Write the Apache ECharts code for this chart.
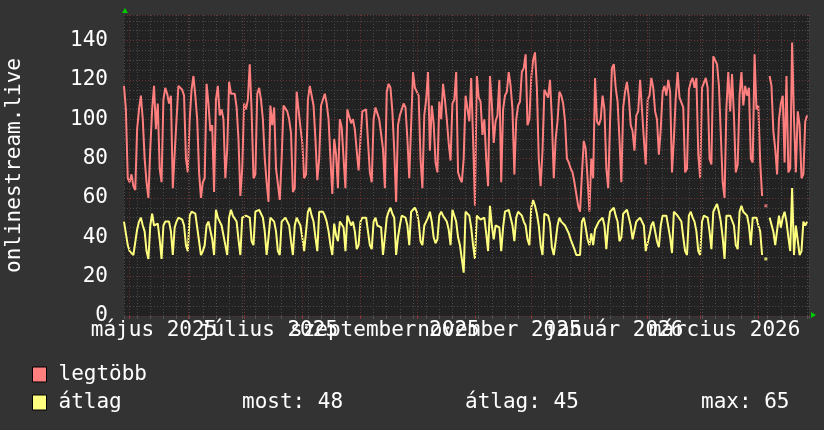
<!DOCTYPE html>
<html>
<head>
<meta charset="utf-8">
<title>onlinestream.live</title>
<script src="https://cdn.jsdelivr.net/npm/echarts@6/dist/echarts.min.js"></script>
<style>
  html, body { margin: 0; padding: 0; background: #333333; }
  #chart { width: 824px; height: 430px; }
</style>
</head>
<body>
<div id="chart"></div>
<script>
// napi értékek, a 0. nap 2025-04-28 (hétfő), hetente egy sor
const maxUsers = [
  117, 105, 70, 68, 72, 66, 64,
  95, 105, 112, 100, 80, 68, 60,
  85, 105, 117, 95, 108, 75, 68,
  110, 116, 113, 108, 112, 65, 65,
  100, 117, 116, 115, 112, 80, 73,
  100, 115, 122, 112, 100, 73, 60,
  68, 70, 118, 108, 94, 97, 63,
  110, 117, 102, 105, 100, 70, 85,
  119, 113, 112, 113, 106, 90, 61,
  75, 108, 105, 110, 128, 104, 70,
  72, 113, 116, 110, 100, 80, 68,
  58, 107, 97, 106, 75, 67, 59,
  80, 107, 107, 104, 100, 93, 63,
  65, 114, 113, 96, 88, 70, 72,
  110, 117, 116, 107, 90, 69, 80,
  107, 108, 113, 108, 100, 80, 62,
  90, 82, 65, 100, 96, 80, 65,
  105, 105, 98, 100, 95, 84, 74,
  90, 104, 105, 105, 105, 73, 68,
  100, 106, 103, 100, 100, 85, 65,
  114, 118, 116, 104, 84, 58, 97,
  102, 105, 108, 106, 90, 70, 70,
  124, 116, 116, 112, 80, 65, 102,
  110, 124, 84, 107, 98, 78, 73,
  109, 100, 118, 110, 100, 88, 79,
  108, 110, 124, 73, 70, 68, 80,
  112, 111, 99, 121, 90, 56, 122,
  111, 109, 92, 100, 80, 66, 122,
  108, 88, 99, 102, 120, 68, 105,
  112, 114, 124, 117, 105, 72, 100,
  107, 109, 124, 126, 133, 97, 100,
  121, 130, 134, 116, 80, 66, 84,
  115, 114, 111, 120, 100, 70, 90,
  99, 114, 112, 108, 99, 80, 78,
  75, 73, 68, 62, 56, 53, 72,
  89, 85, 70, 53, 80, 70, 121,
  99, 97, 100, 112, 105, 75, 65,
  99, 126, 128, 116, 109, 90, 68,
  106, 114, 119, 111, 97, 94, 84,
  102, 104, 120, 119, 90, 77, 110,
  112, 121, 116, 104, 100, 82, 95,
  114, 117, 112, 120, 114, 73, 90,
  111, 124, 111, 112, 106, 73, 75,
  115, 119, 121, 116, 121, 82, 70,
  116, 117, 121, 116, 80, 77, 132,
  131, 128, 117, 116, 68, 60, 106,
  124, 104, 123, 102, 73, 77, 112,
  124, 107, 117, 112, 116, 80, 78,
  133, 105, 107, 78, 61, null, 56,
  null, 122, 117, 94, 85, 72, 100,
  108, 112, 78, 122, 73, 75, 139,
  100, 73, 104, 97, 70, 72, 99,
  102
]

const avgUsers = [
  48, 47, 36, 33, 32, 31, 31,
  44, 48, 50, 46, 43, 33, 29,
  46, 52, 46, 47, 47, 39, 29,
  46, 48, 48, 48, 43, 31, 45,
  48, 50, 49, 49, 46, 36, 33,
  51, 53, 54, 52, 51, 38, 31,
  33, 36, 46, 48, 49, 39, 31,
  54, 50, 48, 46, 45, 36, 31,
  50, 54, 51, 50, 48, 39, 31,
  50, 51, 51, 51, 50, 38, 36,
  53, 54, 54, 52, 50, 43, 31,
  40, 50, 49, 48, 43, 33, 31,
  48, 49, 50, 50, 46, 38, 31,
  46, 50, 48, 46, 40, 33, 34,
  53, 55, 51, 48, 40, 33, 53,
  54, 53, 51, 48, 43, 36, 31,
  47, 41, 38, 48, 49, 45, 33,
  51, 50, 46, 48, 43, 34, 36,
  48, 50, 50, 50, 49, 36, 34,
  48, 50, 46, 46, 45, 31, 40,
  50, 53, 55, 52, 50, 31, 40,
  46, 51, 50, 50, 46, 36, 53,
  54, 55, 53, 48, 38, 36, 46,
  48, 50, 53, 48, 40, 37, 39,
  51, 53, 51, 50, 48, 44, 36,
  54, 55, 48, 40, 36, 29, 22,
  53, 52, 51, 45, 36, 29, 51,
  52, 49, 48, 50, 42, 33, 56,
  46, 39, 46, 46, 45, 33, 45,
  53, 54, 54, 53, 46, 38, 50,
  53, 54, 51, 48, 46, 39, 36,
  55, 59, 56, 52, 46, 36, 31,
  52, 53, 51, 47, 35, 31, 38,
  46, 50, 48, 47, 46, 45, 42,
  39, 38, 34, 31, 30, 31, 48,
  50, 45, 39, 36, 42, 36, 44,
  46, 48, 49, 50, 46, 34, 46,
  53, 54, 55, 51, 48, 38, 40,
  52, 53, 54, 53, 46, 39, 40,
  48, 47, 50, 51, 46, 33, 33,
  41, 46, 48, 43, 38, 35, 46,
  51, 52, 51, 50, 40, 32, 53,
  52, 51, 50, 48, 40, 33, 31,
  51, 53, 50, 48, 43, 33, 31,
  48, 51, 52, 50, 43, 34, 53,
  55, 57, 53, 48, 40, 29, 51,
  50, 51, 50, 46, 36, 34, 53,
  56, 53, 54, 51, 46, 36, 50,
  51, 50, 46, 43, 31, null, 29,
  null, 50, 51, 43, 36, 36, 51,
  45, 50, 53, 48, 40, 33, 65,
  31, 46, 45, 31, 33, 48, 46,
  48
]

// hónapok első napja (napban a 0. naptól)
const monthStarts = [3, 34, 64, 95, 126, 156, 187, 217, 248, 279, 307, 338]
// a feliratok két sávban, hogy az egymásra lógó címkék is megmaradjanak
const labelDaysA = [16, 139, 261]
const labelNamesA = ['május 2025', 'szeptember 2025', 'január 2026']
const labelDaysB = [77, 200, 320]
const labelNamesB = ['július 2025', 'november 2025', 'március 2026']
const statLabels = ['most: 48', 'átlag: 45', 'max: 65']

const FONT = 'DejaVu Sans Mono'
const RED = '#ff7f7f'
const YELLOW = '#ffff7f'

const toPoints = (arr) => arr.map((v, i) => [i, v])

// magányos pontok (két hiány között), ezek külön jelölőt kapnak
const lonePoints = (arr) =>
  arr
    .map((v, i) => [i, v])
    .filter(([i, v]) => v !== null && arr[i - 1] === null && arr[i + 1] === null)

const labelAxis = (days, names) => ({
  type: 'value',
  position: 'bottom',
  min: 0,
  max: 365,
  axisLine: { show: false },
  axisTick: { show: false },
  axisLabel: {
    customValues: days,
    showMinLabel: true,
    showMaxLabel: true,
    hideOverlap: false,
    margin: 4,
    color: '#ffffff',
    fontFamily: FONT,
    fontSize: 21,
    formatter: (v) => names[days.indexOf(Math.round(v))] || ''
  },
  splitLine: { show: false }
})

const chart = echarts.init(document.getElementById('chart'))

const option = {
  backgroundColor: '#333333',
  animation: false,
  grid: {
    left: 124,
    right: 15,
    top: 15,
    bottom: 114,
    outerBoundsMode: 'none',
    containLabel: false,
    show: true,
    backgroundColor: '#222222',
    borderWidth: 0
  },
  legend: {
    orient: 'vertical',
    left: 32,
    top: 364,
    padding: 0,
    itemWidth: 14,
    itemHeight: 15,
    itemGap: 7,
    icon: 'rect',
    selectedMode: false,
    itemStyle: { borderColor: '#000000', borderWidth: 1 },
    textStyle: {
      color: '#ffffff',
      fontFamily: FONT,
      fontSize: 21,
      lineHeight: 21,
      padding: [0, 0, 0, 7]
    },
    data: ['legtöbb', 'átlag']
  },
  xAxis: [
    {
      type: 'value',
      position: 'bottom',
      min: 0,
      max: 365,
      interval: 7,
      axisLine: { show: false },
      axisTick: { show: true, length: 3, lineStyle: { color: '#555555' } },
      axisLabel: { show: false },
      splitLine: { lineStyle: { color: '#4a4a4a', type: [1, 2] } }
    },
    {
      type: 'value',
      position: 'bottom',
      min: 0,
      max: 365,
      axisLine: { show: false },
      axisTick: {
        show: true,
        length: 3,
        customValues: monthStarts,
        lineStyle: { color: '#8a3a3a' }
      },
      axisLabel: { show: false },
      splitLine: { show: false }
    },
    labelAxis(labelDaysA, labelNamesA),
    labelAxis(labelDaysB, labelNamesB)
  ],
  yAxis: [
    {
      type: 'value',
      position: 'left',
      min: 0,
      max: 153,
      interval: 5,
      axisLine: { show: false },
      axisTick: { show: false },
      axisLabel: { show: false },
      splitLine: { lineStyle: { color: '#4a4a4a', type: [1, 2] } }
    },
    {
      type: 'value',
      position: 'left',
      min: 0,
      max: 153,
      interval: 20,
      name: 'onlinestream.live',
      nameLocation: 'middle',
      nameGap: 99,
      nameTextStyle: { color: '#ffffff', fontFamily: FONT, fontSize: 21 },
      axisLine: { show: false },
      axisTick: { show: false },
      axisLabel: {
        margin: 16,
        color: '#ffffff',
        fontFamily: FONT,
        fontSize: 21,
        formatter: (v) => (v % 20 === 0 ? String(v) : '')
      },
      splitLine: { lineStyle: { color: '#6e3030', type: [1, 2] } }
    }
  ],
  series: [
    {
      name: 'hónapok',
      type: 'line',
      data: [],
      z: 1,
      silent: true,
      markLine: {
        silent: true,
        symbol: 'none',
        label: { show: false },
        lineStyle: { color: '#6e3030', type: [1, 2], width: 1 },
        data: monthStarts.map((d) => ({ xAxis: d }))
      }
    },
    {
      name: 'legtöbb',
      type: 'line',
      yAxisIndex: 1,
      data: toPoints(maxUsers),
      showSymbol: false,
      connectNulls: false,
      color: RED,
      lineStyle: { width: 2, color: RED },
      z: 3
    },
    {
      name: 'átlag',
      type: 'line',
      yAxisIndex: 1,
      data: toPoints(avgUsers),
      showSymbol: false,
      connectNulls: false,
      color: YELLOW,
      lineStyle: { width: 2, color: YELLOW },
      z: 4
    },
    {
      name: 'legtöbb',
      type: 'scatter',
      yAxisIndex: 1,
      data: lonePoints(maxUsers),
      symbol: 'rect',
      symbolSize: 3,
      itemStyle: { color: RED },
      z: 3
    },
    {
      name: 'átlag',
      type: 'scatter',
      yAxisIndex: 1,
      data: lonePoints(avgUsers),
      symbol: 'rect',
      symbolSize: 3,
      itemStyle: { color: YELLOW },
      z: 4
    }
  ],
  graphic: [
    {
      type: 'polygon',
      shape: { points: [[122, 13], [128, 13], [125, 8]] },
      style: { fill: '#00cc00' }
    },
    {
      type: 'polygon',
      shape: { points: [[811, 312], [811, 318], [816, 315]] },
      style: { fill: '#00cc00' }
    },
    ...statLabels.map((t, i) => ({
      type: 'text',
      left: [242, 465, 701][i],
      top: 392,
      style: { text: t, fill: '#ffffff', font: `21px "${FONT}"` }
    }))
  ]
}

chart.setOption(option)
</script>
</body>
</html>
